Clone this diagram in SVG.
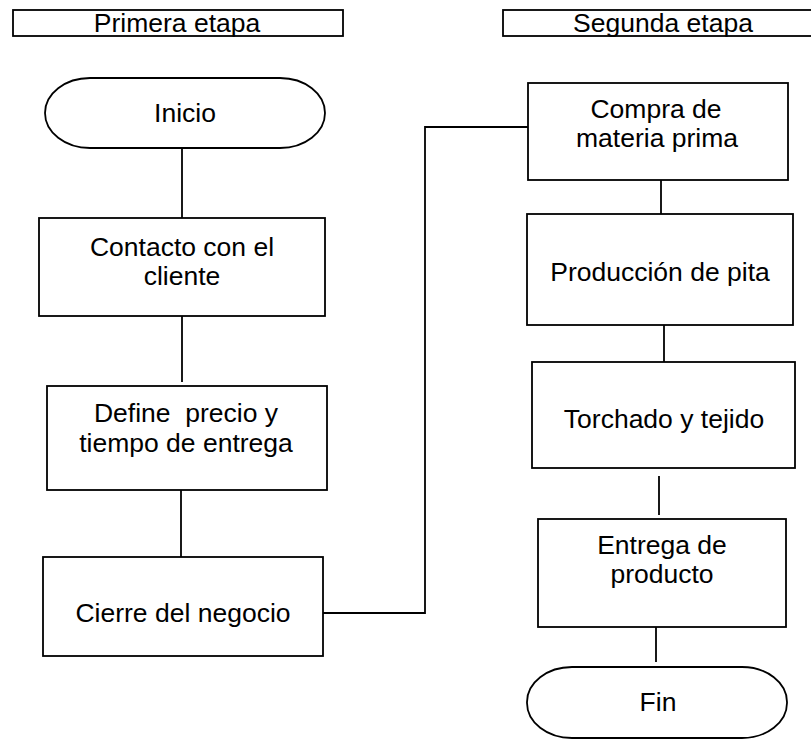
<svg xmlns="http://www.w3.org/2000/svg" width="811" height="739" viewBox="0 0 811 739">
<style>
.b{fill:#fff;stroke:#000;stroke-width:1.8}
.c{fill:none;stroke:#000;stroke-width:1.8}
text{font-family:"Liberation Sans",Arial,sans-serif;font-size:26.5px;fill:#000;text-anchor:middle;white-space:pre}
</style>
<rect width="811" height="739" fill="#fff"/>
<g id="connectors">
<line class="c" x1="182" y1="148" x2="182" y2="218"/>
<line class="c" x1="182" y1="316" x2="182" y2="382"/>
<line class="c" x1="181" y1="490" x2="181" y2="557"/>
<polyline class="c" points="323,613 425,613 425,127 528,127"/>
<line class="c" x1="661" y1="180" x2="661" y2="220"/>
<line class="c" x1="664" y1="325" x2="664" y2="362"/>
<line class="c" x1="659" y1="476" x2="659" y2="515"/>
<line class="c" x1="656" y1="622" x2="656" y2="662"/>
</g>
<g id="h1"><rect class="b" x="13" y="10" width="330" height="26"/><text x="177" y="32">Primera etapa</text></g>
<g id="h2"><rect class="b" x="503" y="10" width="320" height="26"/><text x="663" y="32">Segunda etapa</text></g>
<g id="inicio"><rect class="b" x="45" y="78" width="280" height="70" rx="45" ry="35"/><text x="185" y="122">Inicio</text></g>
<g id="contacto"><rect class="b" x="39" y="218" width="286" height="98"/><text x="182" y="256">Contacto con el</text><text x="182" y="285">cliente</text></g>
<g id="define"><rect class="b" x="47" y="386" width="280" height="104"/><text x="186" y="422">Define  precio y</text><text x="186" y="452">tiempo de entrega</text></g>
<g id="cierre"><rect class="b" x="43" y="557" width="280" height="99"/><text x="183" y="622">Cierre del negocio</text></g>
<g id="compra"><rect class="b" x="528" y="83" width="260" height="97"/><text x="656" y="118">Compra de</text><text x="657" y="147">materia prima</text></g>
<g id="produccion"><rect class="b" x="527" y="214" width="266" height="111"/><text x="660" y="281">Producción de pita</text></g>
<g id="torchado"><rect class="b" x="532" y="362" width="263" height="106"/><text x="664" y="428">Torchado y tejido</text></g>
<g id="entrega"><rect class="b" x="538" y="519" width="248" height="108"/><text x="662" y="554">Entrega de</text><text x="662" y="583">producto</text></g>
<g id="fin"><rect class="b" x="527" y="667" width="260" height="71" rx="45" ry="35"/><text x="658" y="711">Fin</text></g>
</svg>
